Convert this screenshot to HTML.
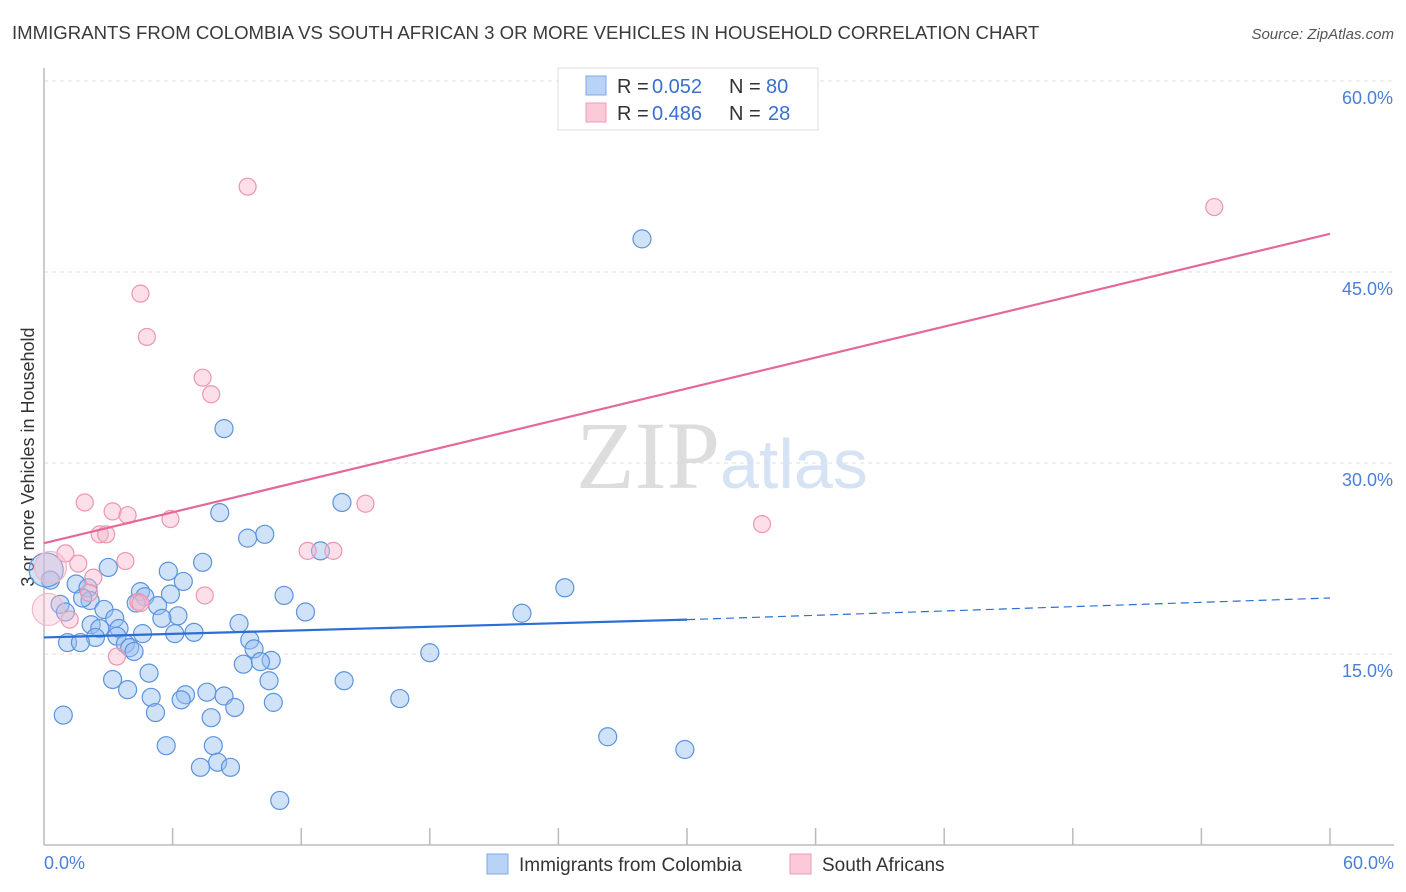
<!DOCTYPE html>
<html><head><meta charset="utf-8"><style>
body{margin:0;background:#fff;font-family:"Liberation Sans",sans-serif}
svg{display:block}
</style></head><body>
<svg id="c" width="1406" height="892">
<text x="12" y="39" font-size="18.6" fill="#3a3a3a">IMMIGRANTS FROM COLOMBIA VS SOUTH AFRICAN 3 OR MORE VEHICLES IN HOUSEHOLD CORRELATION CHART</text>
<text x="1394" y="39" font-size="15" fill="#555" font-style="italic" text-anchor="end">Source: ZipAtlas.com</text>
<text x="720" y="488" font-size="96" fill="#ddd" text-anchor="end" font-family="Liberation Serif">ZIP</text>
<text x="720" y="488" font-size="70" fill="#d6e3f5">atlas</text>
<g id="grid"></g>
<line x1="44" y1="68" x2="44" y2="845" stroke="#bbb" stroke-width="1.5"/>
<line x1="44" y1="845" x2="1394" y2="845" stroke="#bbb" stroke-width="1.5"/>
<g id="xt"></g>
<text transform="translate(34,457) rotate(-90)" font-size="18" fill="#333" text-anchor="middle">3 or more Vehicles in Household</text>
<text x="44" y="869" font-size="18" fill="#4a7fd8">0.0%</text>
<text x="1394" y="869" font-size="18" fill="#4a7fd8" text-anchor="end">60.0%</text>
<g id="pts"></g>
<g id="lines"></g>
<g>
<rect x="558" y="68" width="260" height="62" fill="#fff" stroke="#ddd"/>
<rect x="586" y="76" width="20" height="19" fill="#b8d3f6" stroke="#7ea9e6"/>
<rect x="586" y="103" width="20" height="19" fill="#fbc9d8" stroke="#ee9bb4"/>
<text x="617" y="93" font-size="20" fill="#333">R =</text>
<text x="652" y="93" font-size="20" fill="#3a6fd0">0.052</text>
<text x="729" y="93" font-size="20" fill="#333">N =</text>
<text x="766" y="93" font-size="20" fill="#3a6fd0">80</text>
<text x="617" y="120" font-size="20" fill="#333">R =</text>
<text x="652" y="120" font-size="20" fill="#3a6fd0">0.486</text>
<text x="729" y="120" font-size="20" fill="#333">N =</text>
<text x="768" y="120" font-size="20" fill="#3a6fd0">28</text>
</g>
<g>
<rect x="487" y="854" width="21" height="20" fill="#b8d3f6" stroke="#7ea9e6"/>
<text x="519" y="871" font-size="19" fill="#333">Immigrants from Colombia</text>
<rect x="790" y="854" width="21" height="20" fill="#fbc9d8" stroke="#ee9bb4"/>
<text x="822" y="871" font-size="19" fill="#333">South Africans</text>
</g>
</svg>
<script>
const yTicks=[15,30,45,60];
const yTickLabels=["15.0%","30.0%","45.0%","60.0%"];
const blueX=[27.9,8.4,13.9,8.2,10.3,9.5,12.9,7.4,3.0,5.8,24.3,6.5,1.5,0.3,2.05,4.5,11.2,4.7,5.9,2.15,1.8,0.75,4.3,5.3,2.8,12.2,22.3,1.0,3.3,6.25,5.5,2.2,9.1,3.5,2.6,4.6,6.1,7.0,3.4,2.4,9.6,1.1,1.7,3.8,4.0,4.2,9.8,18.0,10.6,9.3,10.1,4.9,3.2,10.5,14.0,3.9,7.6,8.4,6.6,5.0,6.4,10.7,16.6,8.9,5.2,7.8,0.9,26.3,5.7,7.9,29.9,8.1,7.3,8.7,11.0,0.1];
const blueY=[47.6,32.7,26.9,26.1,24.4,24.1,23.1,22.2,21.8,21.5,20.2,20.7,20.5,20.8,20.2,19.9,19.6,19.5,19.7,19.2,19.4,18.9,19.0,18.8,18.5,18.3,18.2,18.3,17.8,18.0,17.8,17.3,17.4,17.0,17.0,16.6,16.6,16.7,16.4,16.3,16.1,15.9,15.9,15.8,15.5,15.2,15.4,15.1,14.5,14.2,14.4,13.5,13.0,12.9,12.9,12.2,12.0,11.7,11.8,11.6,11.4,11.2,11.5,10.8,10.4,10.0,10.2,8.5,7.8,7.8,7.5,6.5,6.1,6.1,3.5,21.6];
const pinkX=[9.5,54.6,4.5,4.8,7.4,7.8,1.9,15.0,3.2,3.9,5.9,33.5,2.6,2.9,12.3,13.5,1.0,3.8,1.6,2.3,0.3,7.5,2.1,4.4,1.2,3.4,0.2,4.5];
const pinkY=[51.7,50.1,43.3,39.9,36.7,35.4,26.9,26.8,26.2,25.9,25.6,25.2,24.4,24.4,23.1,23.1,22.9,22.3,22.1,21.0,21.8,19.6,19.8,19.1,17.7,14.8,18.5,19.0];
const blueLine=[0,16.3,30,17.7,60,19.4];
const pinkLine=[0,23.7,60,48.0];
const NS="http://www.w3.org/2000/svg";
const X=v=>44+v/60*1286, Y=v=>845-v/15*191;
function mk(t,a,p){const e=document.createElementNS(NS,t);for(const k in a)e.setAttribute(k,a[k]);p.appendChild(e);return e;}
const grid=document.getElementById('grid');
yTicks.forEach((t,i)=>{
 const l=mk('line',{x1:44,x2:1394,y1:Y(t),y2:Y(t),stroke:'#ddd','stroke-dasharray':'4,4'},grid);
 
 
 const tx=mk('text',{x:1393,y:Y(t)+23,'font-size':18,fill:'#4a7fd8','text-anchor':'end'},grid);
 tx.textContent=yTickLabels[i];
 
 
});
const xt=document.getElementById('xt');
for(let i=1;i<=10;i++){const l=mk('line',{x1:X(i*6),x2:X(i*6),y1:828,y2:845,stroke:'#bbb','stroke-width':1.5},xt);
 
 }
const pts=document.getElementById('pts');
blueX.forEach((v,i)=>{const big=i===blueX.length-1;const c=mk('circle',{cx:X(v),cy:Y(blueY[i]),r:big?17:9,fill:'rgba(150,190,240,0.45)',stroke:'#5b93de','stroke-width':1.2},pts);
 
 });
pinkX.forEach((v,i)=>{const big=(i===20||i===26);const c=mk('circle',{cx:X(v),cy:Y(pinkY[i]),r:big?16:8.5,fill:big?'rgba(248,185,205,0.35)':'rgba(248,185,205,0.45)',stroke:big?'#f2b6c8':'#ec96b1','stroke-width':1.2},pts);
 
 });
const lines=document.getElementById('lines');
const b1=mk('line',{x1:X(blueLine[0]),y1:Y(blueLine[1]),x2:X(blueLine[2]),y2:Y(blueLine[3]),stroke:'#2a6fd6','stroke-width':2.2},lines);


const b2=mk('line',{x1:X(blueLine[2]),y1:Y(blueLine[3]),x2:X(blueLine[4]),y2:Y(blueLine[5]),stroke:'#2a6fd6','stroke-width':1.2,'stroke-dasharray':'8,5'},lines);


const p1=mk('line',{x1:X(pinkLine[0]),y1:Y(pinkLine[1]),x2:X(pinkLine[2]),y2:Y(pinkLine[3]),stroke:'#e4689a','stroke-width':2.2},lines);


</script>
</body></html>
